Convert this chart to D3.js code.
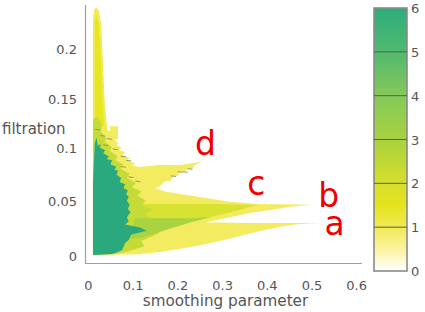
<!DOCTYPE html>
<html><head><meta charset="utf-8">
<script src="https://cdn.jsdelivr.net/npm/d3@7"></script>
<style>html,body{margin:0;background:#fff}svg{display:block}text{font-family:"DejaVu Sans",sans-serif}</style>
</head><body><svg id="c" width="425" height="312"></svg>
<script>
const xTicks=[0,0.1,0.2,0.3,0.4,0.5,0.6];
const xTickLabels=["0","0.1","0.2","0.3","0.4","0.5","0.6"];
const yTicks=[0,0.05,0.1,0.15,0.2];
const yTickLabels=["0","0.05","0.1","0.15","0.2"];
const cbTicks=[0,1,2,3,4,5,6];
const cbStops=[[0,"#ffffff"],[0.5,"#fbf3a0"],[1,"#f2ea55"],[1.5,"#e5e31e"],[2,"#d6df2c"],[3,"#a9d23f"],[4,"#84c95a"],[5,"#52b96e"],[6,"#2cae7c"]];
const annotations=[["a",0.528,0.0198],["b",0.514,0.0469],["c",0.355,0.0585],["d",0.238,0.0972]];

// region outlines: [smoothing, filtration]
const level1=[[0.010,0.121],[0.030,0.124],[0.048,0.120],[0.048,0.125],[0.066,0.125],[0.066,0.113],[0.058,0.112],[0.068,0.108],[0.062,0.107],[0.074,0.104],[0.068,0.102],[0.082,0.100],[0.076,0.097],[0.093,0.094],[0.086,0.092],[0.104,0.089],[0.098,0.087],[0.115,0.0856],[0.135,0.0866],[0.160,0.0875],[0.205,0.0875],[0.254,0.091],[0.238,0.0875],[0.232,0.084],[0.222,0.084],[0.216,0.081],[0.205,0.081],[0.199,0.077],[0.190,0.077],[0.183,0.072],[0.172,0.072],[0.160,0.067],[0.149,0.065],[0.171,0.062],[0.205,0.0595],[0.249,0.0566],[0.317,0.052],[0.384,0.0498],[0.502,0.0492],[0.451,0.0472],[0.406,0.044],[0.361,0.041],[0.317,0.037],[0.272,0.033],[0.261,0.032],[0.294,0.032],[0.361,0.0315],[0.516,0.0314],[0.473,0.0305],[0.428,0.0278],[0.384,0.0237],[0.339,0.0188],[0.294,0.0140],[0.249,0.0098],[0.205,0.0065],[0.160,0.0035],[0.115,0.0012],[0.010,0.0005]];
const spike=[[0.010,0.125],[0.010,0.225],[0.012,0.237],[0.017,0.240],[0.023,0.237],[0.028,0.225],[0.031,0.200],[0.036,0.150],[0.042,0.121]];
const spikeCore=[[0.014,0.125],[0.014,0.225],[0.018,0.232],[0.022,0.225],[0.026,0.200],[0.031,0.150],[0.035,0.125]];
const level2=[[0.100,0.0498],[0.287,0.0498],[0.377,0.0488],[0.317,0.0415],[0.249,0.0350],[0.183,0.0265],[0.130,0.0190],[0.085,0.0120],[0.085,0.06]];
const level3=[[0.104,0.0360],[0.238,0.0360],[0.276,0.0372],[0.227,0.0320],[0.171,0.0245],[0.115,0.0170],[0.090,0.0160]];
const lime=[[0.010,0.132],[0.020,0.134],[0.030,0.127],[0.028,0.120],[0.040,0.113],[0.036,0.110],[0.052,0.105],[0.048,0.101],[0.065,0.096],[0.060,0.092],[0.078,0.088],[0.072,0.084],[0.092,0.079],[0.086,0.075],[0.105,0.070],[0.098,0.066],[0.118,0.062],[0.110,0.058],[0.128,0.053],[0.118,0.048],[0.145,0.045],[0.125,0.040],[0.148,0.034],[0.122,0.029],[0.160,0.022],[0.118,0.014],[0.125,0.009],[0.090,0.004],[0.060,0.0015],[0.010,0.0005]];
const green=[[0.010,0.0005],[0.010,0.070],[0.014,0.108],[0.018,0.114],[0.021,0.106],[0.027,0.108],[0.026,0.104],[0.037,0.102],[0.033,0.099],[0.045,0.096],[0.041,0.093],[0.053,0.092],[0.049,0.088],[0.062,0.086],[0.058,0.083],[0.066,0.082],[0.063,0.078],[0.073,0.075],[0.070,0.071],[0.082,0.069],[0.078,0.065],[0.088,0.063],[0.084,0.059],[0.090,0.057],[0.086,0.053],[0.092,0.049],[0.088,0.045],[0.094,0.042],[0.086,0.037],[0.090,0.033],[0.082,0.030],[0.115,0.027],[0.130,0.024],[0.095,0.020],[0.090,0.015],[0.082,0.012],[0.075,0.005],[0.054,0.0015]];
const stepMarks=[[0.020,0.122],[0.032,0.116],[0.047,0.113],[0.038,0.107],[0.060,0.103],[0.078,0.096],[0.090,0.092],[0.078,0.086],[0.095,0.076],[0.110,0.072],[0.216,0.081],[0.205,0.081],[0.227,0.084],[0.190,0.077]];

const svg=d3.select("#c");
const x=d3.scaleLinear().domain([0,0.6]).range([88.5,356.7]);
const y=d3.scaleLinear().domain([0,0.2]).range([255.5,48.7]);
// the tick labels of the reference are not evenly spaced (the plot is a projected view)
const yLabel=d3.scaleLinear().domain([0,0.05,0.1,0.15,0.2]).range([255.5,201,148,98.5,49]);
const cy=d3.scaleLinear().domain([0,6]).range([271,8]);
const defs=svg.append("defs");
defs.append("filter").attr("id","soft").attr("x","-5%").attr("y","-5%").attr("width","110%").attr("height","110%")
  .append("feGaussianBlur").attr("stdDeviation",0.6);
const grad=defs.append("linearGradient").attr("id","cb").attr("x1",0).attr("x2",0).attr("y1",1).attr("y2",0);
grad.selectAll("stop").data(cbStops).join("stop").attr("offset",d=>d[0]/6).attr("stop-color",d=>d[1]);

const line=d3.line().x(d=>x(d[0])).y(d=>y(d[1]));
const g=svg.append("g").attr("filter","url(#soft)");
[[level1,"#f4ec60"],[spike,"#f0ea55"],[spikeCore,"#e8e624"],[level2,"#d7e230"],[lime,"#c4db38"],[level3,"#a9d33f"],[green,"#2aa87e"]]
 .forEach(([pts,col])=>g.append("path").attr("d",line(pts)+"Z").attr("fill",col));
g.selectAll("line.m").data(stepMarks).join("line").attr("class","m")
  .attr("x1",d=>x(d[0])-2.5).attr("x2",d=>x(d[0])+2.5).attr("y1",d=>y(d[1])).attr("y2",d=>y(d[1])+0.6)
  .attr("stroke","#8f9a6a").attr("stroke-width",1);

// axes
const axisCol="#a0a0a0",txt="#555";
svg.append("path").attr("d","M85.5,5V263.5H362").attr("fill","none").attr("stroke",axisCol).attr("stroke-width",1.2);
svg.selectAll("text.x").data(xTicks).join("text").attr("class","x")
  .attr("x",d=>x(d)).attr("y",290).attr("text-anchor","middle").attr("font-size",13).attr("fill",txt)
  .text((d,i)=>xTickLabels[i]);
svg.selectAll("text.y").data(yTicks).join("text").attr("class","y")
  .attr("x",77).attr("y",d=>yLabel(d)+5).attr("text-anchor","end").attr("font-size",13).attr("fill",txt)
  .text((d,i)=>yTickLabels[i]);
svg.append("text").attr("x",225.5).attr("y",306).attr("text-anchor","middle").attr("font-size",15.2).attr("fill",txt).text("smoothing parameter");
svg.append("text").attr("x",2).attr("y",134).attr("font-size",15).attr("fill",txt).text("filtration");

// colour bar
svg.append("rect").attr("x",374).attr("y",8).attr("width",33).attr("height",263).attr("fill","url(#cb)").attr("stroke","#8a8a8a").attr("stroke-width",1.6);
svg.selectAll("line.cb").data(cbTicks.slice(1,-1)).join("line").attr("class","cb")
  .attr("x1",374).attr("x2",407).attr("y1",d=>cy(d)).attr("y2",d=>cy(d)).attr("stroke","#5a5f48").attr("stroke-width",1);
svg.selectAll("text.cb").data(cbTicks).join("text").attr("class","cb")
  .attr("x",411).attr("y",d=>cy(d)+5).attr("font-size",13).attr("fill",txt).text(d=>d);

// annotations
svg.selectAll("text.a").data(annotations).join("text").attr("class","a")
  .attr("x",d=>x(d[1])).attr("y",d=>y(d[2])).attr("font-size",33).attr("fill","#f00000").text(d=>d[0]);
</script></body></html>
